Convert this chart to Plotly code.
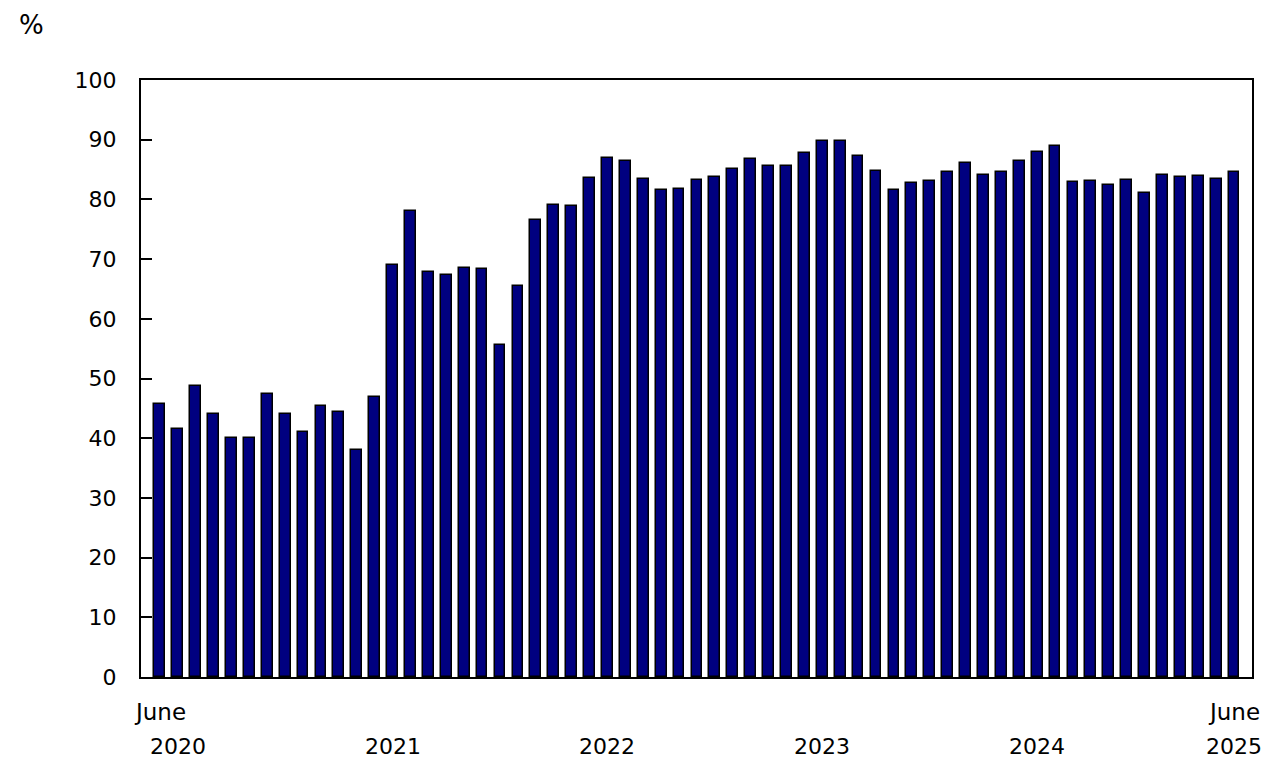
import plotly.graph_objects as go

months = list(range(61))  # June 2020 .. June 2025, monthly
values = [45.8, 41.5, 48.8, 44.0, 40.1, 40.1, 47.4, 44.1, 41.1, 45.4, 44.4, 38.1, 46.9,
          69.0, 78.1, 67.8, 67.4, 68.5, 68.4, 55.6, 65.5, 76.6, 79.1, 78.9, 83.6,
          86.9, 86.5, 83.4, 81.5, 81.8, 83.2, 83.7, 85.1, 86.7, 85.6, 85.6, 87.8,
          89.7, 89.8, 87.3, 84.8, 81.5, 82.8, 83.1, 84.6, 86.1, 84.1, 84.6, 86.5,
          88.0, 89.0, 82.9, 83.1, 82.4, 83.3, 81.0, 84.1, 83.7, 83.9, 83.4, 84.6]

year_labels = ["2020", "2021", "2022", "2023", "2024", "2025"]
year_pos = [1, 13, 25, 37, 49, 60]
month_labels = ["June", "June"]
month_pos = [0, 60]
y_ticks = [0, 10, 20, 30, 40, 50, 60, 70, 80, 90, 100]

FONT = "DejaVu Sans"
FS = 22

fig = go.Figure()
fig.add_trace(go.Bar(
    x=months, y=values, width=0.6,
    marker=dict(color="#000080", line=dict(color="black", width=1.5)),
))

annotations = []
for lbl, p in zip(month_labels, month_pos):
    annotations.append(dict(x=p, y=-35 / 597, xref="x", yref="paper", text=lbl,
                            showarrow=False, xanchor="center", yanchor="middle",
                            font=dict(family=FONT, size=FS + 1, color="black")))
for lbl, p in zip(year_labels, year_pos):
    annotations.append(dict(x=p, y=-69 / 597, xref="x", yref="paper", text=lbl,
                            showarrow=False, xanchor="center", yanchor="middle",
                            font=dict(family=FONT, size=FS, color="black")))
annotations.append(dict(x=-110 / 1111, y=1 + 55 / 597, xref="paper", yref="paper", text="%",
                        showarrow=False, xanchor="center", yanchor="middle",
                        font=dict(family=FONT, size=26, color="black")))

fig.update_layout(
    width=1288, height=771,
    margin=dict(l=133, r=44, t=72, b=102),
    paper_bgcolor="white", plot_bgcolor="white",
    showlegend=False, bargap=0,
    font=dict(family=FONT, size=FS, color="black"),
    annotations=annotations,
    xaxis=dict(range=[-1.05, 61.0], showticklabels=False, ticks="",
               showline=True, linecolor="black", linewidth=2, mirror=True,
               showgrid=False, zeroline=False),
    yaxis=dict(range=[0, 100], tickvals=y_ticks, ticks="inside", ticklen=11,
               tickwidth=2, tickcolor="black", showline=True, linecolor="black",
               linewidth=2, mirror=True, showgrid=False, zeroline=False,
               ticklabelstandoff=18, tickfont=dict(family=FONT, size=FS)),
)

fig.write_html("out.html")
